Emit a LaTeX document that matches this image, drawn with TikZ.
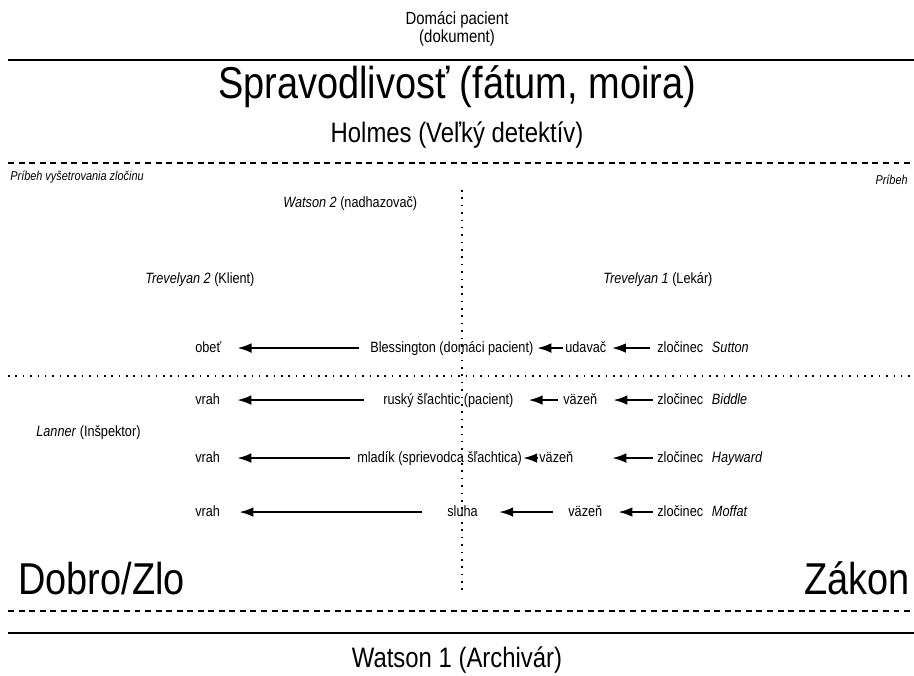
\documentclass[tikz,border=0pt]{standalone}
\usepackage{fontspec}
\setmainfont{Liberation Sans}[FakeStretch=0.85]
\usetikzlibrary{arrows.meta}

\tikzset{
  lbl/.style={inner sep=0pt, anchor=base west, text height=6.5pt, text depth=2pt,
    font=\fontsize{8.5}{10}\selectfont},
  tinylbl/.style={inner sep=0pt, font=\fontsize{7.3}{9}\selectfont\itshape},
  midlbl/.style={inner sep=0pt, anchor=base, font=\fontsize{16}{19}\selectfont},
  hugelbl/.style={inner sep=0pt, font=\fontsize{25.4}{30}\selectfont},
  arr/.style={-{Latex[length=8pt,width=5.5pt]}, line width=1.1pt},
  rule/.style={line width=1.7pt},
  dashrule/.style={line width=1.3pt, dash pattern=on 3.4pt off 2.6pt},
  dotrule/.style={line width=1.1pt, dash pattern=on 0.9pt off 3.3pt},
}

\begin{document}
\begin{tikzpicture}[x=0.02cm,y=-0.02cm]
\useasboundingbox (0,0) rectangle (914,676);

% rules
\draw[rule] (8,60) -- (914,60);
\draw[dashrule] (8,163) -- (914,163);
\draw[dotrule] (8,376) -- (914,376);
\draw[dotrule] (462,190) -- (462,592);
\draw[dashrule] (8,611) -- (914,611);
\draw[rule] (8,633) -- (914,633);

% top
\node[font=\fontsize{10}{10.5}\selectfont, align=center, inner sep=0pt] (domaci) at (457,29) {Domáci pacient\\(dokument)};
\node[hugelbl, anchor=base] (sprav) at (457,98) {Spravodlivosť (fátum, moira)};
\node[midlbl] (holmes) at (457,142) {Holmes (Veľký detektív)};
\node[tinylbl, anchor=base west] (pribehz) at (10,180) {Príbeh vyšetrovania zločinu};
\node[tinylbl, anchor=base east] (pribeh) at (908,184) {Príbeh};

\node[lbl] (watson2) at (283,207) {\textit{Watson 2} (nadhazovač)};
\node[lbl] (trev2) at (145,283) {\textit{Trevelyan 2} (Klient)};
\node[lbl] (trev1) at (603,283) {\textit{Trevelyan 1} (Lekár)};
\node[lbl] (lanner) at (36,436) {\textit{Lanner} (Inšpektor)};

% row 1
\node[lbl] (obet) at (195,352) {obeť};
\node[lbl] (bless) at (370,352) {Blessington (domáci pacient)};
\node[lbl] (udavac) at (565,352) {udavač};
\node[lbl] (zloc1) at (657,352) {zločinec\hspace{5pt}\textit{Sutton}};
\draw[arr, shorten <=6pt, shorten >=9pt] (bless) -- (obet);
\draw[arr, shorten <=1pt, shorten >=2pt] (udavac) -- (bless);
\draw[arr, shorten <=4pt, shorten >=3pt] (zloc1) -- (udavac);

% row 2
\node[lbl] (vrah2) at (195,404) {vrah};
\node[lbl] (rusky) at (383,404) {ruský šľachtic (pacient)};
\node[lbl] (vazen2) at (563,404) {väzeň};
\node[lbl] (zloc2) at (657,404) {zločinec\hspace{5pt}\textit{Biddle}};
\draw[arr, shorten <=11pt, shorten >=9.6pt] (rusky) -- (vrah2);
\draw[arr, shorten <=3pt, shorten >=8.5pt] (vazen2) -- (rusky);
\draw[arr, shorten <=2.3pt, shorten >=9pt] (zloc2) -- (vazen2);

% row 3
\node[lbl] (vrah3) at (195,462) {vrah};
\node[lbl] (mladik) at (357,462) {mladík (sprievodca šľachtica)};
\node[lbl] (vazen3) at (539,462) {väzeň};
\node[lbl] (zloc3) at (657,462) {zločinec\hspace{5pt}\textit{Hayward}};
\draw[arr, shorten <=4pt, shorten >=9.6pt] (mladik) -- (vrah3);
\draw[arr, shorten <=0.5pt, shorten >=0.5pt] (vazen3) -- (mladik);
\draw[arr, shorten <=2.3pt, shorten >=22pt] (zloc3) -- (vazen3);

% row 4
\node[lbl] (vrah4) at (195,516) {vrah};
\node[lbl] (sluha) at (447,516) {sluha};
\node[lbl] (vazen4) at (568,516) {väzeň};
\node[lbl] (zloc4) at (657,516) {zločinec\hspace{5pt}\textit{Moffat}};
\draw[arr, shorten <=14pt, shorten >=10.8pt] (sluha) -- (vrah4);
\draw[arr, shorten <=8.5pt, shorten >=12pt] (vazen4) -- (sluha);
\draw[arr, shorten <=2.3pt, shorten >=9pt] (zloc4) -- (vazen4);

% bottom
\node[hugelbl, anchor=base west] (dobro) at (18,594) {Dobro/Zlo};
\node[hugelbl, anchor=base east] (zakon) at (910,594) {Zákon};
\node[midlbl] (watson1) at (457,667) {Watson 1 (Archivár)};
\end{tikzpicture}
\end{document}
